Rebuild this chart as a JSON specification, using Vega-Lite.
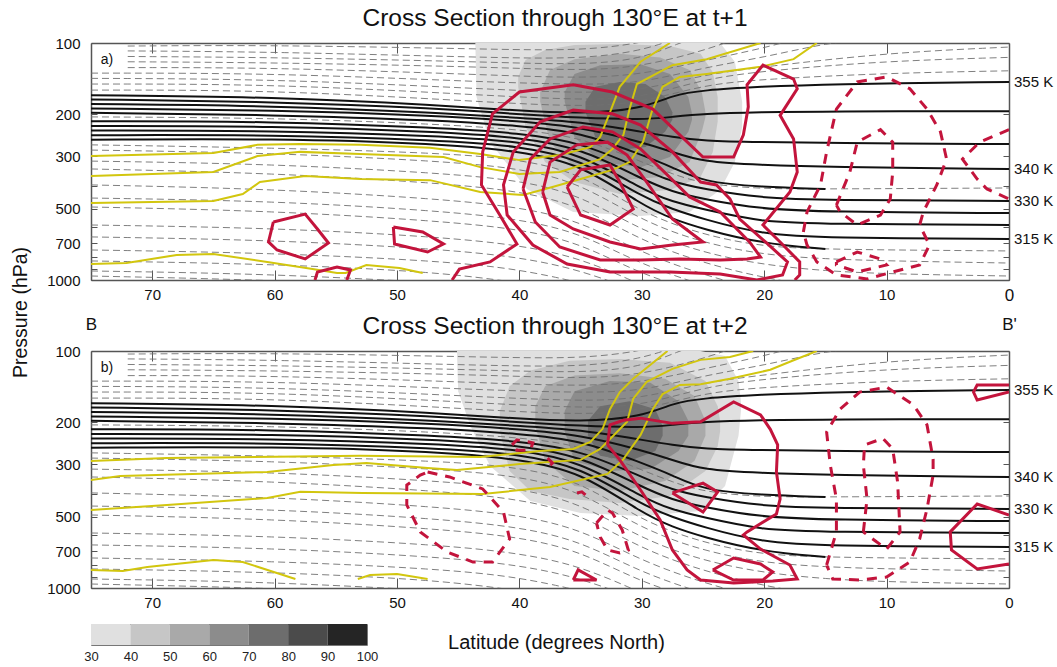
{
"$schema": "https://vega.github.io/schema/vega-lite/v6.json",
"bounds": "flush",
"spacing": 71,
"padding": {"left": 10, "top": 5, "right": 0, "bottom": 0},
"config": {
  "font": "Liberation Sans",
  "view": {"stroke": null},
  "axis": {"domainColor": "#555", "domainWidth": 1.5, "tickColor": "#555", "labelColor": "#111", "labelFontSize": 15, "grid": false, "zindex": 1, "labelOverlap": false},
  "title": {"fontSize": 24.5, "fontWeight": "normal", "color": "#111", "offset": 5}
},
"datasets": {
"blk": [
{"g":"T1","lat":75,"p":166},{"g":"T1","lat":60,"p":169},{"g":"T1","lat":46.5,"p":183},{"g":"T1","lat":40,"p":193},{"g":"T1","lat":35,"p":199},{"g":"T1","lat":30,"p":190},{"g":"T1","lat":27.5,"p":166},{"g":"T1","lat":25,"p":158},{"g":"T1","lat":20.3,"p":153},{"g":"T1","lat":15,"p":149},{"g":"T1","lat":0,"p":146},
{"g":"T2","lat":75,"p":173},{"g":"T2","lat":60,"p":177},{"g":"T2","lat":46.5,"p":189},{"g":"T2","lat":40,"p":200},{"g":"T2","lat":35,"p":207},{"g":"T2","lat":30,"p":211},{"g":"T2","lat":27.5,"p":205},{"g":"T2","lat":25,"p":199},{"g":"T2","lat":20.3,"p":196},{"g":"T2","lat":15,"p":194},{"g":"T2","lat":0,"p":194},
{"g":"T3","lat":75,"p":181},{"g":"T3","lat":60,"p":184},{"g":"T3","lat":46.5,"p":197},{"g":"T3","lat":40,"p":207},{"g":"T3","lat":35,"p":215},{"g":"T3","lat":30,"p":237},{"g":"T3","lat":27.5,"p":249},{"g":"T3","lat":25,"p":259},{"g":"T3","lat":20.3,"p":262},{"g":"T3","lat":15,"p":264},{"g":"T3","lat":0,"p":267},
{"g":"T4","lat":75,"p":189},{"g":"T4","lat":60,"p":192},{"g":"T4","lat":46.5,"p":203},{"g":"T4","lat":40,"p":214},{"g":"T4","lat":35,"p":226},{"g":"T4","lat":30,"p":262},{"g":"T4","lat":27.5,"p":288},{"g":"T4","lat":25,"p":318},{"g":"T4","lat":20.3,"p":327},{"g":"T4","lat":15,"p":334},{"g":"T4","lat":0,"p":340},
{"g":"T5","lat":75,"p":197},{"g":"T5","lat":60,"p":201},{"g":"T5","lat":46.5,"p":212},{"g":"T5","lat":40,"p":224},{"g":"T5","lat":35,"p":237},{"g":"T5","lat":30,"p":297},{"g":"T5","lat":27.5,"p":334},{"g":"T5","lat":25,"p":386},{"g":"T5","lat":20.3,"p":405},{"g":"T5","lat":15,"p":413},
{"g":"B1","lat":75,"p":214},{"g":"B1","lat":60,"p":214},{"g":"B1","lat":46.5,"p":228},{"g":"B1","lat":40,"p":240},{"g":"B1","lat":35,"p":262},{"g":"B1","lat":30,"p":340},{"g":"B1","lat":27.5,"p":386},{"g":"B1","lat":25,"p":413},{"g":"B1","lat":20.3,"p":451},{"g":"B1","lat":15,"p":460},{"g":"B1","lat":0,"p":464},
{"g":"B2","lat":75,"p":224},{"g":"B2","lat":60,"p":224},{"g":"B2","lat":46.5,"p":237},{"g":"B2","lat":40,"p":250},{"g":"B2","lat":35,"p":277},{"g":"B2","lat":30,"p":375},{"g":"B2","lat":27.5,"p":425},{"g":"B2","lat":25,"p":455},{"g":"B2","lat":20.3,"p":502},{"g":"B2","lat":15,"p":516},{"g":"B2","lat":0,"p":522},
{"g":"B3","lat":75,"p":234},{"g":"B3","lat":60,"p":234},{"g":"B3","lat":46.5,"p":247},{"g":"B3","lat":40,"p":260},{"g":"B3","lat":35,"p":293},{"g":"B3","lat":30,"p":413},{"g":"B3","lat":27.5,"p":469},{"g":"B3","lat":25,"p":502},{"g":"B3","lat":20.3,"p":569},{"g":"B3","lat":15,"p":580},{"g":"B3","lat":0,"p":586},
{"g":"B4","lat":75,"p":245},{"g":"B4","lat":60,"p":244},{"g":"B4","lat":46.5,"p":257},{"g":"B4","lat":40,"p":272},{"g":"B4","lat":35,"p":308},{"g":"B4","lat":30,"p":446},{"g":"B4","lat":27.5,"p":502},{"g":"B4","lat":25,"p":553},{"g":"B4","lat":20.3,"p":640},{"g":"B4","lat":15,"p":665},{"g":"B4","lat":0,"p":671},
{"g":"B5","lat":75,"p":256},{"g":"B5","lat":60,"p":253},{"g":"B5","lat":46.5,"p":266},{"g":"B5","lat":40,"p":286},{"g":"B5","lat":35,"p":323},{"g":"B5","lat":30,"p":483},{"g":"B5","lat":27.5,"p":553},{"g":"B5","lat":25,"p":609},{"g":"B5","lat":20.3,"p":700},{"g":"B5","lat":15,"p":740}
],
"gd": [
{"g":"U1","lat":72,"p":103},{"g":"U1","lat":60,"p":102},{"g":"U1","lat":43,"p":106},{"g":"U1","lat":35,"p":108},{"g":"U1","lat":30,"p":100},{"g":"U1","lat":27,"p":91},
{"g":"U2","lat":72,"p":108},{"g":"U2","lat":60,"p":109},{"g":"U2","lat":43,"p":115},{"g":"U2","lat":35,"p":117},{"g":"U2","lat":30,"p":108},{"g":"U2","lat":27,"p":95},
{"g":"U3","lat":72,"p":114},{"g":"U3","lat":60,"p":115},{"g":"U3","lat":43,"p":120},{"g":"U3","lat":35,"p":124},{"g":"U3","lat":30,"p":117},{"g":"U3","lat":27,"p":100},{"g":"U3","lat":25,"p":93},
{"g":"U4","lat":72,"p":120},{"g":"U4","lat":60,"p":121},{"g":"U4","lat":43,"p":126},{"g":"U4","lat":35,"p":131},{"g":"U4","lat":30,"p":126},{"g":"U4","lat":25,"p":108},{"g":"U4","lat":22,"p":95},
{"g":"U5","lat":72,"p":127},{"g":"U5","lat":60,"p":127},{"g":"U5","lat":43,"p":136},{"g":"U5","lat":35,"p":141},{"g":"U5","lat":30,"p":136},{"g":"U5","lat":25,"p":119},{"g":"U5","lat":20,"p":105},{"g":"U5","lat":17,"p":95},
{"g":"U6","lat":75,"p":134},{"g":"U6","lat":60,"p":134},{"g":"U6","lat":43,"p":146},{"g":"U6","lat":35,"p":150},{"g":"U6","lat":30,"p":148},{"g":"U6","lat":25,"p":127},{"g":"U6","lat":20,"p":115},{"g":"U6","lat":15,"p":100},{"g":"U6","lat":10,"p":94},
{"g":"U7","lat":75,"p":141},{"g":"U7","lat":60,"p":142},{"g":"U7","lat":43,"p":156},{"g":"U7","lat":35,"p":163},{"g":"U7","lat":30,"p":159},{"g":"U7","lat":25,"p":136},{"g":"U7","lat":20,"p":126},{"g":"U7","lat":10,"p":110},{"g":"U7","lat":0,"p":104},
{"g":"U8","lat":75,"p":149},{"g":"U8","lat":60,"p":149},{"g":"U8","lat":43,"p":166},{"g":"U8","lat":35,"p":174},{"g":"U8","lat":30,"p":171},{"g":"U8","lat":25,"p":142},{"g":"U8","lat":20,"p":131},{"g":"U8","lat":10,"p":119},{"g":"U8","lat":0,"p":115},
{"g":"U9","lat":75,"p":158},{"g":"U9","lat":60,"p":158},{"g":"U9","lat":43,"p":177},{"g":"U9","lat":35,"p":186},{"g":"U9","lat":30,"p":179},{"g":"U9","lat":25,"p":150},{"g":"U9","lat":20,"p":142},{"g":"U9","lat":10,"p":134},{"g":"U9","lat":0,"p":131},
{"g":"M1","lat":75,"p":205},{"g":"M1","lat":60,"p":207},{"g":"M1","lat":46.5,"p":220},{"g":"M1","lat":40,"p":232},{"g":"M1","lat":35,"p":249},{"g":"M1","lat":30,"p":318},{"g":"M1","lat":27.5,"p":357},{"g":"M1","lat":25,"p":393},{"g":"M1","lat":20.3,"p":413},{"g":"M1","lat":15,"p":413},{"g":"M1","lat":0,"p":409},
{"g":"L1","lat":75,"p":269},{"g":"L1","lat":60,"p":277},{"g":"L1","lat":46.5,"p":291},{"g":"L1","lat":40,"p":309},{"g":"L1","lat":35,"p":354},{"g":"L1","lat":30,"p":522},{"g":"L1","lat":25,"p":646},{"g":"L1","lat":20,"p":726},{"g":"L1","lat":15,"p":740},{"g":"L1","lat":10,"p":747},{"g":"L1","lat":0,"p":754},
{"g":"L2","lat":75,"p":283},{"g":"L2","lat":60,"p":291},{"g":"L2","lat":46.5,"p":315},{"g":"L2","lat":40,"p":337},{"g":"L2","lat":35,"p":390},{"g":"L2","lat":30,"p":564},{"g":"L2","lat":25,"p":698},{"g":"L2","lat":20,"p":784},{"g":"L2","lat":15,"p":815},{"g":"L2","lat":10,"p":831},{"g":"L2","lat":0,"p":848},
{"g":"L3","lat":75,"p":315},{"g":"L3","lat":60,"p":324},{"g":"L3","lat":46.5,"p":354},{"g":"L3","lat":40,"p":379},{"g":"L3","lat":35,"p":438},{"g":"L3","lat":30,"p":621},{"g":"L3","lat":25,"p":769},{"g":"L3","lat":20,"p":864},{"g":"L3","lat":15,"p":916},{"g":"L3","lat":10,"p":943},{"g":"L3","lat":0,"p":962},
{"g":"L4","lat":75,"p":340},{"g":"L4","lat":60,"p":354},{"g":"L4","lat":46.5,"p":390},{"g":"L4","lat":40,"p":421},{"g":"L4","lat":35,"p":487},{"g":"L4","lat":30,"p":685},{"g":"L4","lat":25,"p":848},{"g":"L4","lat":20,"p":981},{"g":"L4","lat":15,"p":1081},
{"g":"L5","lat":75,"p":397},{"g":"L5","lat":60,"p":413},{"g":"L5","lat":46.5,"p":455},{"g":"L5","lat":40,"p":492},{"g":"L5","lat":35,"p":564},{"g":"L5","lat":30,"p":769},{"g":"L5","lat":25,"p":952},{"g":"L5","lat":20,"p":1113},
{"g":"L6","lat":75,"p":451},{"g":"L6","lat":60,"p":464},{"g":"L6","lat":46.5,"p":511},{"g":"L6","lat":40,"p":553},{"g":"L6","lat":35,"p":633},{"g":"L6","lat":30,"p":864},{"g":"L6","lat":25,"p":1050},
{"g":"L7","lat":75,"p":492},{"g":"L7","lat":60,"p":511},{"g":"L7","lat":46.5,"p":564},{"g":"L7","lat":40,"p":609},{"g":"L7","lat":35,"p":698},{"g":"L7","lat":30,"p":952},{"g":"L7","lat":25,"p":1134},
{"g":"L8","lat":75,"p":586},{"g":"L8","lat":60,"p":603},{"g":"L8","lat":46.5,"p":658},{"g":"L8","lat":40,"p":712},{"g":"L8","lat":35,"p":807},{"g":"L8","lat":30,"p":1050},
{"g":"L9","lat":75,"p":658},{"g":"L9","lat":60,"p":678},{"g":"L9","lat":46.5,"p":740},{"g":"L9","lat":40,"p":800},{"g":"L9","lat":35,"p":907},{"g":"L9","lat":30,"p":1134},
{"g":"L10","lat":75,"p":747},{"g":"L10","lat":60,"p":769},{"g":"L10","lat":46.5,"p":831},{"g":"L10","lat":40,"p":899},{"g":"L10","lat":35,"p":1029},
{"g":"L11","lat":75,"p":831},{"g":"L11","lat":60,"p":856},{"g":"L11","lat":46.5,"p":925},{"g":"L11","lat":40,"p":1029},
{"g":"L12","lat":75,"p":916},{"g":"L12","lat":60,"p":943},{"g":"L12","lat":46.5,"p":1029},
{"g":"L13","lat":75,"p":962},{"g":"L13","lat":60,"p":1000},{"g":"L13","lat":46.5,"p":1081}
],
"klab": [
{"lat":0,"p":146,"t":"355 K"},{"lat":0,"p":340,"t":"340 K"},{"lat":0,"p":464,"t":"330 K"},{"lat":0,"p":671,"t":"315 K"}
],
"sa": [
{"lev":35,"lat":43.6,"p":100,"p2":100},{"lev":35,"lat":43.5,"p":100,"p2":169},{"lev":35,"lat":42.4,"p":100,"p2":262},{"lev":35,"lat":39.4,"p":100,"p2":413},{"lev":35,"lat":35.6,"p":100,"p2":516},{"lev":35,"lat":30.1,"p":100,"p2":537},{"lev":35,"lat":26.1,"p":100,"p2":516},{"lev":35,"lat":23.6,"p":100,"p2":417},{"lev":35,"lat":22.4,"p":120,"p2":318},{"lev":35,"lat":21.8,"p":177,"p2":226},
{"lev":45,"lat":40.1,"p":139,"p2":153},{"lev":45,"lat":39.5,"p":118,"p2":226},{"lev":45,"lat":37.9,"p":107,"p2":318},{"lev":45,"lat":35.5,"p":102,"p2":386},{"lev":45,"lat":31.8,"p":101,"p2":434},{"lev":45,"lat":27.7,"p":103,"p2":417},{"lev":45,"lat":25.2,"p":111,"p2":368},{"lev":45,"lat":24.2,"p":133,"p2":288},{"lev":45,"lat":23.8,"p":169,"p2":215},
{"lev":55,"lat":38.3,"p":161,"p2":177},{"lev":55,"lat":37.5,"p":130,"p2":262},{"lev":55,"lat":35.5,"p":117,"p2":334},{"lev":55,"lat":31.8,"p":111,"p2":379},{"lev":55,"lat":28.5,"p":115,"p2":368},{"lev":55,"lat":26.1,"p":130,"p2":318},{"lev":55,"lat":25.1,"p":161,"p2":237},{"lev":55,"lat":24.8,"p":196,"p2":205},
{"lev":65,"lat":36.3,"p":161,"p2":177},{"lev":65,"lat":35.5,"p":135,"p2":249},{"lev":65,"lat":33.4,"p":124,"p2":318},{"lev":65,"lat":30.1,"p":123,"p2":334},{"lev":65,"lat":27.7,"p":135,"p2":303},{"lev":65,"lat":26.2,"p":169,"p2":237},{"lev":65,"lat":25.9,"p":199,"p2":211},
{"lev":75,"lat":34.6,"p":177,"p2":196},{"lev":75,"lat":33.8,"p":153,"p2":249},{"lev":75,"lat":31.8,"p":146,"p2":283},{"lev":75,"lat":29.7,"p":149,"p2":275},{"lev":75,"lat":28.1,"p":169,"p2":237},{"lev":75,"lat":27.5,"p":196,"p2":211}
],
"sb": [
{"lev":35,"lat":45.1,"p":100,"p2":100},{"lev":35,"lat":45,"p":100,"p2":148},{"lev":35,"lat":44,"p":100,"p2":207},{"lev":35,"lat":42.4,"p":100,"p2":306},{"lev":35,"lat":39.1,"p":100,"p2":429},{"lev":35,"lat":35,"p":100,"p2":483},{"lev":35,"lat":30.1,"p":100,"p2":497},{"lev":35,"lat":25.2,"p":100,"p2":473},{"lev":35,"lat":23.2,"p":105,"p2":371},{"lev":35,"lat":22.1,"p":134,"p2":228},{"lev":35,"lat":21.9,"p":163,"p2":179},
{"lev":45,"lat":41.6,"p":179,"p2":218},{"lev":45,"lat":40.8,"p":141,"p2":321},{"lev":45,"lat":39.1,"p":121,"p2":390},{"lev":45,"lat":35.9,"p":110,"p2":421},{"lev":45,"lat":31.8,"p":108,"p2":438},{"lev":45,"lat":27.7,"p":112,"p2":409},{"lev":45,"lat":24.8,"p":134,"p2":321},{"lev":45,"lat":23.8,"p":171,"p2":252},{"lev":45,"lat":23.6,"p":197,"p2":218},
{"lev":55,"lat":38.7,"p":171,"p2":207},{"lev":55,"lat":37.9,"p":141,"p2":291},{"lev":55,"lat":35.5,"p":127,"p2":371},{"lev":55,"lat":31.8,"p":124,"p2":390},{"lev":55,"lat":28.1,"p":131,"p2":354},{"lev":55,"lat":25.7,"p":155,"p2":291},{"lev":55,"lat":24.8,"p":197,"p2":228},
{"lev":65,"lat":36.3,"p":179,"p2":218},{"lev":65,"lat":35.5,"p":148,"p2":291},{"lev":65,"lat":32.6,"p":134,"p2":321},{"lev":65,"lat":29.3,"p":136,"p2":315},{"lev":65,"lat":27,"p":163,"p2":264},{"lev":65,"lat":26.2,"p":197,"p2":228},
{"lev":75,"lat":34.4,"p":197,"p2":228},{"lev":75,"lat":33.4,"p":171,"p2":277},{"lev":75,"lat":31,"p":163,"p2":291},{"lev":75,"lat":28.9,"p":176,"p2":264},{"lev":75,"lat":28.3,"p":207,"p2":228}
],
"bar": [
{"lo":30,"hi":40,"lev":35},{"lo":40,"hi":50,"lev":45},{"lo":50,"hi":60,"lev":55},{"lo":60,"hi":70,"lev":65},{"lo":70,"hi":80,"lev":75},{"lo":80,"hi":90,"lev":85},{"lo":90,"hi":100,"lev":95}
],
"ya": [
{"g":"A","lat":75,"p":300},{"g":"A","lat":65,"p":291},{"g":"A","lat":61.4,"p":269},{"g":"A","lat":57.9,"p":267},{"g":"A","lat":53,"p":269},{"g":"A","lat":47.3,"p":277},{"g":"A","lat":43.2,"p":294},{"g":"A","lat":40,"p":312},{"g":"A","lat":36.7,"p":297},{"g":"A","lat":34.2,"p":275},{"g":"A","lat":33.4,"p":249},{"g":"A","lat":32.6,"p":196},{"g":"A","lat":31.8,"p":153},{"g":"A","lat":30.1,"p":120},{"g":"A","lat":27.7,"p":100},
{"g":"B","lat":75,"p":364},{"g":"B","lat":65,"p":350},{"g":"B","lat":61.4,"p":300},{"g":"B","lat":57.9,"p":288},{"g":"B","lat":53,"p":294},{"g":"B","lat":46.2,"p":303},{"g":"B","lat":43.2,"p":334},{"g":"B","lat":40,"p":357},{"g":"B","lat":36.7,"p":350},{"g":"B","lat":33.4,"p":309},{"g":"B","lat":32.4,"p":280},{"g":"B","lat":31.5,"p":244},{"g":"B","lat":31,"p":190},{"g":"B","lat":30.4,"p":149},{"g":"B","lat":27.5,"p":124},{"g":"B","lat":24.7,"p":117},{"g":"B","lat":20.3,"p":100},
{"g":"C","lat":75,"p":473},{"g":"C","lat":65,"p":464},{"g":"C","lat":62.6,"p":434},{"g":"C","lat":61.2,"p":386},{"g":"C","lat":57.5,"p":364},{"g":"C","lat":53,"p":375},{"g":"C","lat":47.3,"p":379},{"g":"C","lat":43.2,"p":425},{"g":"C","lat":39.7,"p":438},{"g":"C","lat":37.3,"p":405},{"g":"C","lat":35,"p":375},{"g":"C","lat":32.4,"p":343},{"g":"C","lat":31,"p":318},{"g":"C","lat":29.9,"p":262},{"g":"C","lat":29.2,"p":196},{"g":"C","lat":28.3,"p":153},{"g":"C","lat":26.9,"p":139},{"g":"C","lat":24.7,"p":135},{"g":"C","lat":20.3,"p":126},{"g":"C","lat":17.6,"p":117},{"g":"C","lat":15.7,"p":100},
{"g":"D","lat":75,"p":856},{"g":"D","lat":72.1,"p":848},{"g":"D","lat":68,"p":784},{"g":"D","lat":65,"p":777},{"g":"D","lat":60.6,"p":839},{"g":"D","lat":56.9,"p":899},{"g":"D","lat":54.9,"p":934},{"g":"D","lat":54.2,"p":934},{"g":"D","lat":52.5,"p":864},{"g":"D","lat":49.8,"p":890},{"g":"D","lat":47.9,"p":934}
],
"yb": [
{"g":"A","lat":75,"p":291},{"g":"A","lat":68.8,"p":283},{"g":"A","lat":53,"p":277},{"g":"A","lat":43.2,"p":280},{"g":"A","lat":38.3,"p":264},{"g":"A","lat":35.6,"p":259},{"g":"A","lat":34.2,"p":242},{"g":"A","lat":33.2,"p":213},{"g":"A","lat":32.6,"p":176},{"g":"A","lat":31.8,"p":149},{"g":"A","lat":30.7,"p":131},{"g":"A","lat":27.9,"p":100},
{"g":"B","lat":75,"p":350},{"g":"B","lat":72.6,"p":337},{"g":"B","lat":60.6,"p":324},{"g":"B","lat":55.2,"p":303},{"g":"B","lat":52.5,"p":297},{"g":"B","lat":47.5,"p":312},{"g":"B","lat":45.1,"p":318},{"g":"B","lat":40,"p":300},{"g":"B","lat":35,"p":288},{"g":"B","lat":33.4,"p":259},{"g":"B","lat":31.2,"p":199},{"g":"B","lat":30.7,"p":159},{"g":"B","lat":29.6,"p":135},{"g":"B","lat":27.5,"p":119},{"g":"B","lat":25.2,"p":109},{"g":"B","lat":22.8,"p":106},{"g":"B","lat":20.9,"p":100},
{"g":"C","lat":75,"p":469},{"g":"C","lat":68.8,"p":446},{"g":"C","lat":60.6,"p":417},{"g":"C","lat":57.9,"p":393},{"g":"C","lat":52.8,"p":397},{"g":"C","lat":43,"p":401},{"g":"C","lat":37.5,"p":375},{"g":"C","lat":32.8,"p":330},{"g":"C","lat":31.5,"p":286},{"g":"C","lat":30.1,"p":226},{"g":"C","lat":29.1,"p":176},{"g":"C","lat":28.3,"p":152},{"g":"C","lat":26.9,"p":139},{"g":"C","lat":25.2,"p":138},{"g":"C","lat":22.8,"p":131},{"g":"C","lat":19.5,"p":120},{"g":"C","lat":17.9,"p":111},{"g":"C","lat":15.7,"p":100},
{"g":"D","lat":75,"p":839},{"g":"D","lat":72.4,"p":848},{"g":"D","lat":70.4,"p":815},{"g":"D","lat":65,"p":762},{"g":"D","lat":62.6,"p":777},{"g":"D","lat":58.3,"p":916},
{"g":"E","lat":53.2,"p":916},{"g":"E","lat":52.2,"p":881},{"g":"E","lat":50,"p":873},{"g":"E","lat":47.5,"p":916}
],
"ra": [
{"g":"R1","i":0,"lat":45.5,"p":1000},{"g":"R1","i":1,"lat":44.9,"p":899},{"g":"R1","i":2,"lat":42.4,"p":839},{"g":"R1","i":3,"lat":40.2,"p":705},{"g":"R1","i":4,"lat":41.6,"p":532},{"g":"R1","i":5,"lat":43.1,"p":397},{"g":"R1","i":6,"lat":43,"p":288},{"g":"R1","i":7,"lat":42.2,"p":199},{"g":"R1","i":8,"lat":40,"p":161},{"g":"R1","i":9,"lat":35.6,"p":150},{"g":"R1","i":10,"lat":32.4,"p":161},{"g":"R1","i":11,"lat":29.1,"p":190},{"g":"R1","i":12,"lat":26.9,"p":244},{"g":"R1","i":13,"lat":25,"p":303},{"g":"R1","i":14,"lat":22.5,"p":303},{"g":"R1","i":15,"lat":21.7,"p":244},{"g":"R1","i":16,"lat":21.3,"p":186},{"g":"R1","i":17,"lat":21.4,"p":150},{"g":"R1","i":18,"lat":20.1,"p":124},{"g":"R1","i":19,"lat":17.6,"p":142},{"g":"R1","i":20,"lat":17.3,"p":156},{"g":"R1","i":21,"lat":18.7,"p":202},{"g":"R1","i":22,"lat":17.6,"p":254},{"g":"R1","i":23,"lat":17.3,"p":350},{"g":"R1","i":24,"lat":17.9,"p":425},{"g":"R1","i":25,"lat":20.1,"p":586},{"g":"R1","i":26,"lat":18.7,"p":691},{"g":"R1","i":27,"lat":17.1,"p":839},{"g":"R1","i":28,"lat":17.1,"p":952},{"g":"R1","i":29,"lat":17.5,"p":1000},
{"g":"R2","i":0,"lat":20.6,"p":1000},{"g":"R2","i":1,"lat":18.5,"p":952},{"g":"R2","i":2,"lat":18.1,"p":839},{"g":"R2","i":3,"lat":19.9,"p":691},{"g":"R2","i":4,"lat":22,"p":553},{"g":"R2","i":5,"lat":22.8,"p":455},{"g":"R2","i":6,"lat":23.9,"p":397},{"g":"R2","i":7,"lat":25.2,"p":386},{"g":"R2","i":8,"lat":27.5,"p":288},{"g":"R2","i":9,"lat":30.1,"p":222},{"g":"R2","i":10,"lat":32.4,"p":199},{"g":"R2","i":11,"lat":35.6,"p":192},{"g":"R2","i":12,"lat":38.3,"p":215},{"g":"R2","i":13,"lat":40.5,"p":288},{"g":"R2","i":14,"lat":41.3,"p":397},{"g":"R2","i":15,"lat":41,"p":532},{"g":"R2","i":16,"lat":38.9,"p":712},{"g":"R2","i":17,"lat":36.1,"p":856},{"g":"R2","i":18,"lat":32.6,"p":925},{"g":"R2","i":19,"lat":27.7,"p":925},{"g":"R2","i":20,"lat":23.6,"p":943},{"g":"R2","i":21,"lat":20.6,"p":1000},
{"g":"R3","i":0,"lat":39.7,"p":413},{"g":"R3","i":1,"lat":39.1,"p":309},{"g":"R3","i":2,"lat":37.5,"p":254},{"g":"R3","i":3,"lat":34.8,"p":226},{"g":"R3","i":4,"lat":32.4,"p":237},{"g":"R3","i":5,"lat":30.1,"p":280},{"g":"R3","i":6,"lat":27.9,"p":361},{"g":"R3","i":7,"lat":26.1,"p":446},{"g":"R3","i":8,"lat":23.6,"p":516},{"g":"R3","i":9,"lat":21.2,"p":691},{"g":"R3","i":10,"lat":20.3,"p":800},{"g":"R3","i":11,"lat":21.4,"p":815},{"g":"R3","i":12,"lat":23.6,"p":823},{"g":"R3","i":13,"lat":26.9,"p":815},{"g":"R3","i":14,"lat":30.1,"p":823},{"g":"R3","i":15,"lat":33.4,"p":823},{"g":"R3","i":16,"lat":36.7,"p":726},{"g":"R3","i":17,"lat":38.7,"p":569},{"g":"R3","i":18,"lat":39.7,"p":413},
{"g":"R4","i":0,"lat":38.1,"p":425},{"g":"R4","i":1,"lat":37.5,"p":318},{"g":"R4","i":2,"lat":35.3,"p":269},{"g":"R4","i":3,"lat":32.8,"p":262},{"g":"R4","i":4,"lat":31.2,"p":297},{"g":"R4","i":5,"lat":29.6,"p":386},{"g":"R4","i":6,"lat":27.5,"p":553},{"g":"R4","i":7,"lat":25,"p":691},{"g":"R4","i":8,"lat":27.5,"p":712},{"g":"R4","i":9,"lat":30.1,"p":740},{"g":"R4","i":10,"lat":32.6,"p":691},{"g":"R4","i":11,"lat":35.6,"p":609},{"g":"R4","i":12,"lat":37.5,"p":532},{"g":"R4","i":13,"lat":38.1,"p":425},
{"g":"R5","i":0,"lat":36.1,"p":405},{"g":"R5","i":1,"lat":35,"p":343},{"g":"R5","i":2,"lat":32.6,"p":327},{"g":"R5","i":3,"lat":31.8,"p":386},{"g":"R5","i":4,"lat":30.7,"p":502},{"g":"R5","i":5,"lat":32.6,"p":586},{"g":"R5","i":6,"lat":35,"p":532},{"g":"R5","i":7,"lat":36.1,"p":405},
{"g":"RA1","i":0,"lat":60.1,"p":569},{"g":"RA1","i":1,"lat":57.5,"p":527},{"g":"RA1","i":2,"lat":56.5,"p":609},{"g":"RA1","i":3,"lat":55.6,"p":698},{"g":"RA1","i":4,"lat":57.5,"p":815},{"g":"RA1","i":5,"lat":59.8,"p":747},{"g":"RA1","i":6,"lat":60.5,"p":691},{"g":"RA1","i":7,"lat":60.1,"p":569},
{"g":"RA2","i":0,"lat":50.3,"p":597},{"g":"RA2","i":1,"lat":47.9,"p":627},{"g":"RA2","i":2,"lat":46.2,"p":705},{"g":"RA2","i":3,"lat":47.5,"p":762},{"g":"RA2","i":4,"lat":50.2,"p":705},{"g":"RA2","i":5,"lat":50.3,"p":597},
{"g":"RA3","i":0,"lat":56.7,"p":1000},{"g":"RA3","i":1,"lat":56.5,"p":925},{"g":"RA3","i":2,"lat":54.9,"p":881},{"g":"RA3","i":3,"lat":53.8,"p":907},{"g":"RA3","i":4,"lat":54.1,"p":1000}
],
"rad": [
{"g":"D1","i":0,"lat":16.8,"p":627},{"g":"D1","i":1,"lat":16.5,"p":516},{"g":"D1","i":2,"lat":15.4,"p":397},{"g":"D1","i":3,"lat":14.9,"p":288},{"g":"D1","i":4,"lat":14.1,"p":190},{"g":"D1","i":5,"lat":12.4,"p":146},{"g":"D1","i":6,"lat":10,"p":139},{"g":"D1","i":7,"lat":8.1,"p":156},{"g":"D1","i":8,"lat":6.7,"p":190},{"g":"D1","i":9,"lat":5.6,"p":237},{"g":"D1","i":10,"lat":5.1,"p":309},{"g":"D1","i":11,"lat":5.9,"p":397},{"g":"D1","i":12,"lat":7,"p":516},{"g":"D1","i":13,"lat":7.3,"p":586},{"g":"D1","i":14,"lat":6.5,"p":712},{"g":"D1","i":15,"lat":7.3,"p":864},{"g":"D1","i":16,"lat":9.5,"p":925},{"g":"D1","i":17,"lat":11.6,"p":990},{"g":"D1","i":18,"lat":14.1,"p":952},{"g":"D1","i":19,"lat":15.7,"p":839},{"g":"D1","i":20,"lat":16.5,"p":712},{"g":"D1","i":21,"lat":16.8,"p":627},
{"g":"D2","i":0,"lat":14.1,"p":483},{"g":"D2","i":1,"lat":13,"p":350},{"g":"D2","i":2,"lat":12.4,"p":262},{"g":"D2","i":3,"lat":10.5,"p":232},{"g":"D2","i":4,"lat":9.5,"p":262},{"g":"D2","i":5,"lat":9.5,"p":350},{"g":"D2","i":6,"lat":9.7,"p":455},{"g":"D2","i":7,"lat":10.5,"p":532},{"g":"D2","i":8,"lat":12.4,"p":586},{"g":"D2","i":9,"lat":13.8,"p":516},{"g":"D2","i":10,"lat":14.1,"p":483},
{"g":"D3","i":0,"lat":14.1,"p":839},{"g":"D3","i":1,"lat":12.4,"p":762},{"g":"D3","i":2,"lat":10.5,"p":815},{"g":"D3","i":3,"lat":10,"p":864},{"g":"D3","i":4,"lat":12.4,"p":925},{"g":"D3","i":5,"lat":14.1,"p":864},{"g":"D3","i":6,"lat":14.1,"p":839},
{"g":"D4","i":0,"lat":0,"p":232},{"g":"D4","i":1,"lat":2.4,"p":262},{"g":"D4","i":2,"lat":3.8,"p":309},{"g":"D4","i":3,"lat":2.6,"p":375},{"g":"D4","i":4,"lat":1.8,"p":413},{"g":"D4","i":5,"lat":0,"p":455}
],
"rb": [
{"g":"S1","i":0,"lat":32.8,"p":249},{"g":"S1","i":1,"lat":32.6,"p":205},{"g":"S1","i":2,"lat":31.5,"p":196},{"g":"S1","i":3,"lat":30.1,"p":192},{"g":"S1","i":4,"lat":27.5,"p":202},{"g":"S1","i":5,"lat":25.2,"p":199},{"g":"S1","i":6,"lat":22.5,"p":164},{"g":"S1","i":7,"lat":20.3,"p":186},{"g":"S1","i":8,"lat":19.5,"p":214},{"g":"S1","i":9,"lat":18.9,"p":249},{"g":"S1","i":10,"lat":19,"p":324},{"g":"S1","i":11,"lat":18.7,"p":421},{"g":"S1","i":12,"lat":19,"p":487},{"g":"S1","i":13,"lat":21.4,"p":580},{"g":"S1","i":14,"lat":21.7,"p":597},{"g":"S1","i":15,"lat":20.3,"p":685},{"g":"S1","i":16,"lat":17.9,"p":800},{"g":"S1","i":17,"lat":17.3,"p":916},{"g":"S1","i":18,"lat":19.3,"p":934},{"g":"S1","i":19,"lat":22.5,"p":952},{"g":"S1","i":20,"lat":25.2,"p":925},{"g":"S1","i":21,"lat":26.3,"p":839},{"g":"S1","i":22,"lat":27.5,"p":691},{"g":"S1","i":23,"lat":28.5,"p":516},{"g":"S1","i":24,"lat":30.1,"p":386},{"g":"S1","i":25,"lat":31.8,"p":288},{"g":"S1","i":26,"lat":32.8,"p":249},
{"g":"S2","i":0,"lat":27.5,"p":397},{"g":"S2","i":1,"lat":25,"p":361},{"g":"S2","i":2,"lat":23.8,"p":393},{"g":"S2","i":3,"lat":25,"p":478},{"g":"S2","i":4,"lat":27.5,"p":397},
{"g":"S3","i":0,"lat":24.2,"p":839},{"g":"S3","i":1,"lat":22.5,"p":747},{"g":"S3","i":2,"lat":20.3,"p":792},{"g":"S3","i":3,"lat":19.3,"p":856},{"g":"S3","i":4,"lat":20.1,"p":925},{"g":"S3","i":5,"lat":22.5,"p":925},{"g":"S3","i":6,"lat":24.2,"p":839},
{"g":"S5","i":0,"lat":0,"p":139},{"g":"S5","i":1,"lat":2.6,"p":139},{"g":"S5","i":2,"lat":2.9,"p":149},{"g":"S5","i":3,"lat":2.6,"p":161},{"g":"S5","i":4,"lat":0,"p":149},
{"g":"S6","i":0,"lat":0,"p":492},{"g":"S6","i":1,"lat":2.6,"p":442},{"g":"S6","i":2,"lat":4.8,"p":580},{"g":"S6","i":3,"lat":4.7,"p":691},{"g":"S6","i":4,"lat":2.6,"p":831},{"g":"S6","i":5,"lat":0,"p":792},
{"g":"S7","i":0,"lat":35.6,"p":925},{"g":"S7","i":1,"lat":35.2,"p":839},{"g":"S7","i":2,"lat":33.7,"p":925},{"g":"S7","i":3,"lat":35.6,"p":925}
],
"rbd": [
{"g":"E1","i":0,"lat":47.5,"p":324},{"g":"E1","i":1,"lat":45.7,"p":340},{"g":"E1","i":2,"lat":43,"p":382},{"g":"E1","i":3,"lat":41.3,"p":478},{"g":"E1","i":4,"lat":40.8,"p":621},{"g":"E1","i":5,"lat":42.2,"p":777},{"g":"E1","i":6,"lat":43.8,"p":777},{"g":"E1","i":7,"lat":45.9,"p":705},{"g":"E1","i":8,"lat":48.1,"p":580},{"g":"E1","i":9,"lat":49.2,"p":446},{"g":"E1","i":10,"lat":49.2,"p":368},{"g":"E1","i":11,"lat":48.1,"p":334},{"g":"E1","i":12,"lat":47.5,"p":324},
{"g":"E2","i":0,"lat":40.6,"p":249},{"g":"E2","i":1,"lat":40.2,"p":237},{"g":"E2","i":2,"lat":38.9,"p":244},{"g":"E2","i":3,"lat":39.1,"p":262},{"g":"E2","i":4,"lat":40.2,"p":262},{"g":"E2","i":5,"lat":40.6,"p":249},
{"g":"E3","i":0,"lat":37.7,"p":283},{"g":"E3","i":1,"lat":37.3,"p":297},{"g":"E3","i":2,"lat":37.7,"p":312},
{"g":"E4","i":0,"lat":35.3,"p":397},{"g":"E4","i":1,"lat":34.9,"p":393},{"g":"E4","i":2,"lat":34.6,"p":405},
{"g":"E5","i":0,"lat":33.7,"p":532},{"g":"E5","i":1,"lat":32.8,"p":469},{"g":"E5","i":2,"lat":32.4,"p":483},{"g":"E5","i":3,"lat":31.6,"p":569},{"g":"E5","i":4,"lat":31.1,"p":691},{"g":"E5","i":5,"lat":31.8,"p":712},{"g":"E5","i":6,"lat":32.8,"p":691},{"g":"E5","i":7,"lat":33.4,"p":609},{"g":"E5","i":8,"lat":33.7,"p":532},
{"g":"E6","i":0,"lat":14.9,"p":800},{"g":"E6","i":1,"lat":14.1,"p":580},{"g":"E6","i":2,"lat":14.1,"p":421},{"g":"E6","i":3,"lat":14.6,"p":303},{"g":"E6","i":4,"lat":14.9,"p":220},{"g":"E6","i":5,"lat":13.8,"p":176},{"g":"E6","i":6,"lat":12.2,"p":149},{"g":"E6","i":7,"lat":10,"p":142},{"g":"E6","i":8,"lat":7.8,"p":169},{"g":"E6","i":9,"lat":6.7,"p":205},{"g":"E6","i":10,"lat":6.2,"p":286},{"g":"E6","i":11,"lat":6.2,"p":334},{"g":"E6","i":12,"lat":6.7,"p":464},{"g":"E6","i":13,"lat":7.3,"p":621},{"g":"E6","i":14,"lat":8.1,"p":777},{"g":"E6","i":15,"lat":10,"p":899},{"g":"E6","i":16,"lat":12.2,"p":925},{"g":"E6","i":17,"lat":14.4,"p":916},{"g":"E6","i":18,"lat":14.9,"p":800},
{"g":"E7","i":0,"lat":11.9,"p":580},{"g":"E7","i":1,"lat":11.6,"p":421},{"g":"E7","i":2,"lat":11.9,"p":303},{"g":"E7","i":3,"lat":11.8,"p":249},{"g":"E7","i":4,"lat":10.3,"p":234},{"g":"E7","i":5,"lat":9.5,"p":259},{"g":"E7","i":6,"lat":9.1,"p":357},{"g":"E7","i":7,"lat":8.9,"p":580},{"g":"E7","i":8,"lat":10,"p":685},{"g":"E7","i":9,"lat":10.8,"p":640},{"g":"E7","i":10,"lat":11.9,"p":580}
]
},
"vconcat": [
{
 "width": 918, "height": 237,
 "title": {"text": "Cross Section through 130°E at t+1", "dx": 5},
 "resolve": {"axis": {"x": "independent", "y": "independent"}},
 "layer": [
  {"data": {"name": "sa"},
   "mark": {"type": "area", "opacity": 1, "clip": true},
   "encoding": {
    "x": {"field": "lat", "type": "quantitative", "scale": {"domain": [0, 75], "reverse": true, "nice": false, "zero": false},
          "axis": {"orient": "bottom", "values": [75,70,60,50,40,30,20,10,0], "labelExpr": "datum.value == 75 ? ['', 'B'] : datum.value == 0 ? ['0', \"B'\"] : datum.label", "labelFlush": false, "tickSize": -10, "labelPadding": 17, "labelLineHeight": 29, "labelBaseline": "top", "labelFontSize": {"condition": {"test": "datum.value == 75 || datum.value == 0", "value": 17}, "value": 15}, "title": null}},
    "y": {"field": "p", "type": "quantitative", "scale": {"type": "log", "domain": [100, 1000], "reverse": true, "nice": false},
          "axis": {"orient": "left", "values": [100,200,300,400,500,600,700,800,900,1000], "format": "d", "labelExpr": "indexof([100,200,300,500,700,1000], datum.value) >= 0 ? datum.label : ''", "tickSize": -6, "labelPadding": 17, "title": "Pressure (hPa)", "titleFontSize": 19.5, "titleFontWeight": "normal", "titleColor": "#111", "titleAngle": -90, "titleX": -71, "titleY": 269, "titleAlign": "center", "titleBaseline": "middle"}},
    "y2": {"field": "p2"},
    "color": {"field": "lev", "type": "quantitative", "scale": {"type": "quantize", "domain": [30, 100], "nice": false, "zero": false, "range": ["#e0e0e0","#c6c6c6","#a9a9a9","#8c8c8c","#6d6d6d","#4b4b4b","#252525"]}, "legend": null},
    "detail": {"field": "lev", "type": "nominal"}
   }},
  {"data": {"name": "gd"},
   "mark": {"type": "line", "clip": true, "color": "#707070", "strokeWidth": 0.9, "strokeDash": [7, 4], "interpolate": "basis"},
   "encoding": {
    "x": {"field": "lat", "type": "quantitative", "axis": {"orient": "top", "values": [70,60,50,40,30,20,10], "labels": false, "tickSize": -10, "title": null}},
    "y": {"field": "p", "type": "quantitative", "axis": {"orient": "right", "values": [100,200,300,400,500,600,700,800,900,1000], "labels": false, "tickSize": -6, "title": null}},
    "detail": {"field": "g", "type": "nominal"}
   }},
  {"data": {"name": "blk"},
   "mark": {"type": "line", "clip": true, "color": "#111111", "strokeWidth": 2, "interpolate": "basis"},
   "encoding": {"x": {"field": "lat", "type": "quantitative", "axis": null}, "y": {"field": "p", "type": "quantitative", "axis": null}, "detail": {"field": "g", "type": "nominal"}}},
  {"data": {"name": "ya"},
   "mark": {"type": "line", "clip": true, "color": "#d2c60e", "strokeWidth": 2},
   "encoding": {"x": {"field": "lat", "type": "quantitative", "axis": null}, "y": {"field": "p", "type": "quantitative", "axis": null}, "detail": {"field": "g", "type": "nominal"}}},
  {"data": {"name": "ra"},
   "mark": {"type": "line", "clip": true, "color": "#c3143c", "strokeWidth": 3},
   "encoding": {"x": {"field": "lat", "type": "quantitative", "axis": null}, "y": {"field": "p", "type": "quantitative", "axis": null}, "detail": {"field": "g", "type": "nominal"}, "order": {"field": "i", "type": "quantitative"}}},
  {"data": {"name": "rad"},
   "mark": {"type": "line", "clip": true, "color": "#c3143c", "strokeWidth": 3, "strokeDash": [10, 8]},
   "encoding": {"x": {"field": "lat", "type": "quantitative", "axis": null}, "y": {"field": "p", "type": "quantitative", "axis": null}, "detail": {"field": "g", "type": "nominal"}, "order": {"field": "i", "type": "quantitative"}}},
  {"data": {"name": "klab"},
   "mark": {"type": "text", "align": "left", "baseline": "middle", "dx": 5, "fontSize": 15, "color": "#111"},
   "encoding": {"x": {"field": "lat", "type": "quantitative", "axis": null}, "y": {"field": "p", "type": "quantitative", "axis": null}, "text": {"field": "t"}}},
  {"data": {"values": [{"lat": 73.7, "p": 118, "t": "a)"}]},
   "mark": {"type": "text", "align": "center", "baseline": "middle", "fontSize": 14, "color": "#111"},
   "encoding": {"x": {"field": "lat", "type": "quantitative", "axis": null}, "y": {"field": "p", "type": "quantitative", "axis": null}, "text": {"field": "t"}}}
 ]
},
{
 "bounds": "flush",
 "spacing": 36,
 "vconcat": [
 {
 "width": 918, "height": 237,
 "title": {"text": "Cross Section through 130°E at t+2", "dx": 5},
 "resolve": {"axis": {"x": "independent", "y": "independent"}},
 "layer": [
  {"data": {"name": "sb"},
   "mark": {"type": "area", "opacity": 1, "clip": true},
   "encoding": {
    "x": {"field": "lat", "type": "quantitative", "scale": {"domain": [0, 75], "reverse": true, "nice": false, "zero": false},
          "axis": {"orient": "bottom", "values": [75,70,60,50,40,30,20,10,0], "labelExpr": "datum.value == 75 ? '' : datum.label", "labelFlush": false, "tickSize": -10, "labelPadding": 17, "labelBaseline": "top", "title": "Latitude (degrees North)", "titleFontSize": 20, "titleFontWeight": "normal", "titleColor": "#111", "titlePadding": 22, "titleX": 465}},
    "y": {"field": "p", "type": "quantitative", "scale": {"type": "log", "domain": [100, 1000], "reverse": true, "nice": false},
          "axis": {"orient": "left", "values": [100,200,300,400,500,600,700,800,900,1000], "format": "d", "labelExpr": "indexof([100,200,300,500,700,1000], datum.value) >= 0 ? datum.label : ''", "tickSize": -6, "labelPadding": 17, "title": null}},
    "y2": {"field": "p2"},
    "color": {"field": "lev", "type": "quantitative", "scale": {"type": "quantize", "domain": [30, 100], "nice": false, "zero": false, "range": ["#e0e0e0","#c6c6c6","#a9a9a9","#8c8c8c","#6d6d6d","#4b4b4b","#252525"]}, "legend": null},
    "detail": {"field": "lev", "type": "nominal"}
   }},
  {"data": {"name": "gd"},
   "mark": {"type": "line", "clip": true, "color": "#707070", "strokeWidth": 0.9, "strokeDash": [7, 4], "interpolate": "basis"},
   "encoding": {
    "x": {"field": "lat", "type": "quantitative", "axis": {"orient": "top", "values": [70,60,50,40,30,20,10], "labels": false, "tickSize": -10, "title": null}},
    "y": {"field": "p", "type": "quantitative", "axis": {"orient": "right", "values": [100,200,300,400,500,600,700,800,900,1000], "labels": false, "tickSize": -6, "title": null}},
    "detail": {"field": "g", "type": "nominal"}
   }},
  {"data": {"name": "blk"},
   "mark": {"type": "line", "clip": true, "color": "#111111", "strokeWidth": 2, "interpolate": "basis"},
   "encoding": {"x": {"field": "lat", "type": "quantitative", "axis": null}, "y": {"field": "p", "type": "quantitative", "axis": null}, "detail": {"field": "g", "type": "nominal"}}},
  {"data": {"name": "yb"},
   "mark": {"type": "line", "clip": true, "color": "#d2c60e", "strokeWidth": 2},
   "encoding": {"x": {"field": "lat", "type": "quantitative", "axis": null}, "y": {"field": "p", "type": "quantitative", "axis": null}, "detail": {"field": "g", "type": "nominal"}}},
  {"data": {"name": "rb"},
   "mark": {"type": "line", "clip": true, "color": "#c3143c", "strokeWidth": 3},
   "encoding": {"x": {"field": "lat", "type": "quantitative", "axis": null}, "y": {"field": "p", "type": "quantitative", "axis": null}, "detail": {"field": "g", "type": "nominal"}, "order": {"field": "i", "type": "quantitative"}}},
  {"data": {"name": "rbd"},
   "mark": {"type": "line", "clip": true, "color": "#c3143c", "strokeWidth": 3, "strokeDash": [10, 8]},
   "encoding": {"x": {"field": "lat", "type": "quantitative", "axis": null}, "y": {"field": "p", "type": "quantitative", "axis": null}, "detail": {"field": "g", "type": "nominal"}, "order": {"field": "i", "type": "quantitative"}}},
  {"data": {"name": "klab"},
   "mark": {"type": "text", "align": "left", "baseline": "middle", "dx": 5, "fontSize": 15, "color": "#111"},
   "encoding": {"x": {"field": "lat", "type": "quantitative", "axis": null}, "y": {"field": "p", "type": "quantitative", "axis": null}, "text": {"field": "t"}}},
  {"data": {"values": [{"lat": 73.7, "p": 118, "t": "b)"}]},
   "mark": {"type": "text", "align": "center", "baseline": "middle", "fontSize": 14, "color": "#111"},
   "encoding": {"x": {"field": "lat", "type": "quantitative", "axis": null}, "y": {"field": "p", "type": "quantitative", "axis": null}, "text": {"field": "t"}}}
 ]
 },
 {
  "width": 276, "height": 21,
  "view": {"stroke": "#777", "strokeWidth": 1},
  "data": {"name": "bar"},
  "mark": {"type": "rect"},
  "encoding": {
   "x": {"field": "lo", "type": "quantitative", "scale": {"domain": [30, 100], "nice": false, "zero": false},
         "axis": {"values": [30,40,50,60,70,80,90,100], "ticks": false, "domain": false, "labelFontSize": 13, "labelPadding": 5, "labelFlush": false, "labelColor": "#222", "title": null}},
   "x2": {"field": "hi"},
   "color": {"field": "lev", "type": "quantitative", "scale": {"type": "quantize", "domain": [30, 100], "nice": false, "zero": false, "range": ["#e0e0e0","#c6c6c6","#a9a9a9","#8c8c8c","#6d6d6d","#4b4b4b","#252525"]}, "legend": null}
  }
 }
 ]
}
]
}
